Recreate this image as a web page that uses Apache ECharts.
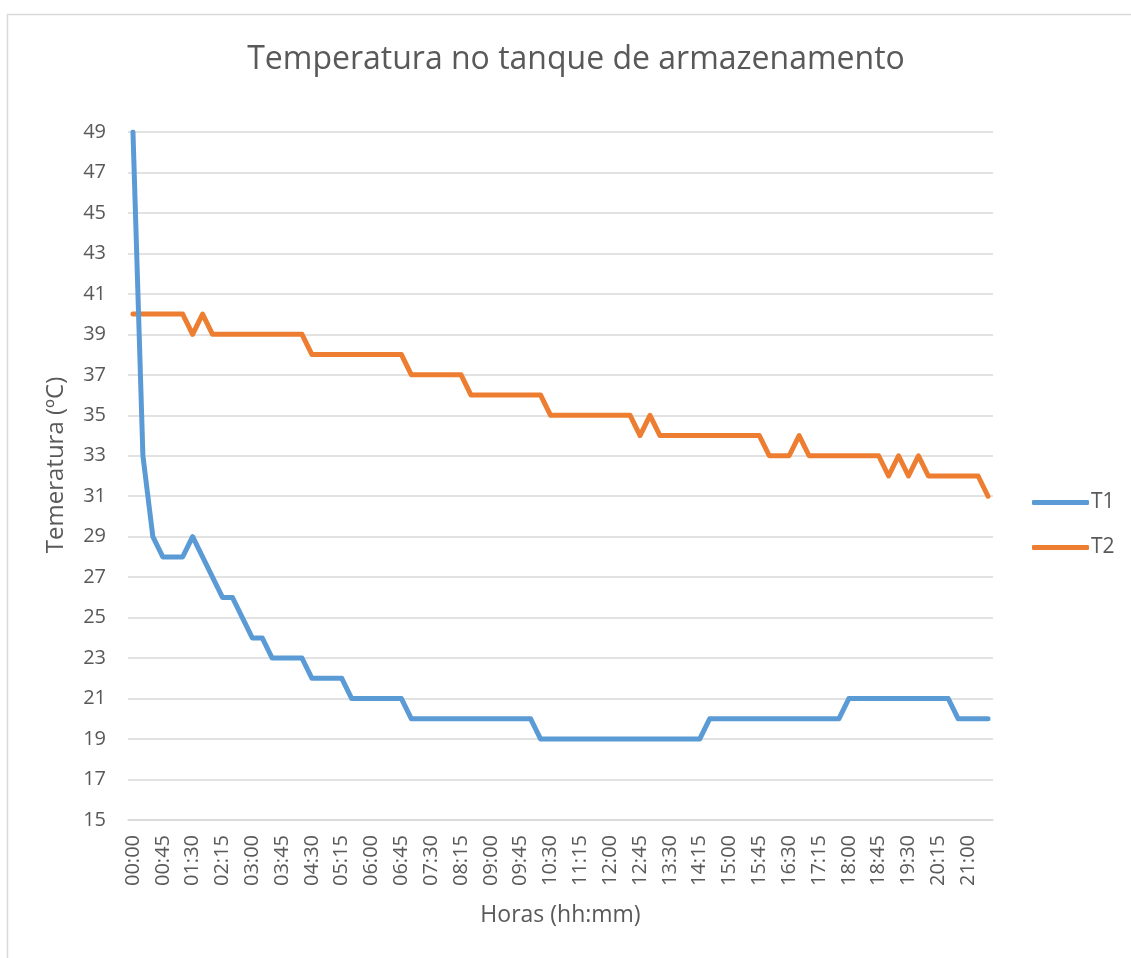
<!DOCTYPE html>
<html>
<head>
<meta charset="utf-8">
<title>Temperatura no tanque de armazenamento</title>
<script src="https://cdn.jsdelivr.net/npm/echarts@6/dist/echarts.min.js"></script>
<style>
  html, body { margin: 0; padding: 0; background: #ffffff; }
  #chart { width: 1131px; height: 958px; }
</style>
</head>
<body>
<div id="chart"></div>
<script>
// Time of day, one reading every 15 minutes
const horas = [
  '00:00','00:15','00:30','00:45','01:00','01:15','01:30','01:45','02:00','02:15',
  '02:30','02:45','03:00','03:15','03:30','03:45','04:00','04:15','04:30','04:45',
  '05:00','05:15','05:30','05:45','06:00','06:15','06:30','06:45','07:00','07:15',
  '07:30','07:45','08:00','08:15','08:30','08:45','09:00','09:15','09:30','09:45',
  '10:00','10:15','10:30','10:45','11:00','11:15','11:30','11:45','12:00','12:15',
  '12:30','12:45','13:00','13:15','13:30','13:45','14:00','14:15','14:30','14:45',
  '15:00','15:15','15:30','15:45','16:00','16:15','16:30','16:45','17:00','17:15',
  '17:30','17:45','18:00','18:15','18:30','18:45','19:00','19:15','19:30','19:45',
  '20:00','20:15','20:30','20:45','21:00','21:15','21:30'
];

// Sensor T1 (ºC)
const t1 = [
  49, 33, 29, 28, 28, 28, 29, 28, 27, 26,
  26, 25, 24, 24, 23, 23, 23, 23, 22, 22,
  22, 22, 21, 21, 21, 21, 21, 21, 20, 20,
  20, 20, 20, 20, 20, 20, 20, 20, 20, 20,
  20, 19, 19, 19, 19, 19, 19, 19, 19, 19,
  19, 19, 19, 19, 19, 19, 19, 19, 20, 20,
  20, 20, 20, 20, 20, 20, 20, 20, 20, 20,
  20, 20, 21, 21, 21, 21, 21, 21, 21, 21,
  21, 21, 21, 20, 20, 20, 20
];

// Sensor T2 (ºC)
const t2 = [
  40, 40, 40, 40, 40, 40, 39, 40, 39, 39,
  39, 39, 39, 39, 39, 39, 39, 39, 38, 38,
  38, 38, 38, 38, 38, 38, 38, 38, 37, 37,
  37, 37, 37, 37, 36, 36, 36, 36, 36, 36,
  36, 36, 35, 35, 35, 35, 35, 35, 35, 35,
  35, 34, 35, 34, 34, 34, 34, 34, 34, 34,
  34, 34, 34, 34, 33, 33, 33, 34, 33, 33,
  33, 33, 33, 33, 33, 33, 32, 33, 32, 33,
  32, 32, 32, 32, 32, 32, 31
];

const tituloGrafico = 'Temperatura no tanque de armazenamento';
const tituloEixoX = 'Horas (hh:mm)';
const tituloEixoY = 'Temeratura (ºC)';
const nomesSeries = ['T1', 'T2'];

const FONT = '"Open Sans", "Noto Sans", sans-serif';
const TXT = '#595959';
const GRID_LINE = '#D9D9D9';

const chart = echarts.init(document.getElementById('chart'), null, { renderer: 'canvas' });

chart.setOption({
  backgroundColor: '#ffffff',
  animation: false,
  textStyle: { fontFamily: FONT, color: TXT },
  graphic: [{
    type: 'rect',
    silent: true,
    shape: { x: 7.5, y: 14.5, width: 1200, height: 1000 },
    style: { fill: 'none', stroke: GRID_LINE, lineWidth: 1.5 }
  }],
  title: {
    text: tituloGrafico,
    left: 576,
    textAlign: 'center',
    top: 44,
    padding: 0,
    textStyle: { fontFamily: FONT, fontSize: 32, fontWeight: 'normal', color: TXT }
  },
  legend: {
    orient: 'vertical',
    left: 1032,
    top: 492,
    padding: 0,
    itemWidth: 57,
    itemHeight: 5,
    itemGap: 24,
    icon: 'roundRect',
    data: nomesSeries,
    textStyle: { fontFamily: FONT, fontSize: 21, color: TXT, padding: [0, 0, 0, -3] }
  },
  grid: {
    left: 128,
    right: 138,
    top: 132,
    bottom: 138,
    containLabel: false,
    outerBoundsMode: 'none'
  },
  xAxis: {
    type: 'category',
    data: horas,
    boundaryGap: true,
    name: tituloEixoX,
    nameLocation: 'middle',
    nameGap: 84,
    nameTextStyle: { fontFamily: FONT, fontSize: 23, color: TXT },
    axisLine: { show: true, lineStyle: { color: GRID_LINE, width: 1.5 } },
    axisTick: { show: false },
    axisLabel: {
      interval: 2,
      rotate: 90,
      margin: 15,
      fontFamily: FONT,
      fontSize: 20,
      color: TXT
    },
    splitLine: { show: false }
  },
  yAxis: {
    type: 'value',
    min: 15,
    max: 49,
    interval: 2,
    name: tituloEixoY,
    nameLocation: 'middle',
    nameGap: 60,
    nameTextStyle: { fontFamily: FONT, fontSize: 24, color: TXT, padding: [0, 0, 0, 22] },
    axisLine: { show: false },
    axisTick: { show: false },
    axisLabel: { margin: 22, fontFamily: FONT, fontSize: 20, color: TXT },
    splitLine: { show: true, lineStyle: { color: GRID_LINE, width: 1.5 } }
  },
  series: [
    {
      name: nomesSeries[0],
      type: 'line',
      data: t1,
      z: 3,
      symbol: 'none',
      color: '#5B9BD5',
      lineStyle: { width: 5, color: '#5B9BD5', cap: 'round', join: 'round' }
    },
    {
      name: nomesSeries[1],
      type: 'line',
      data: t2,
      z: 2,
      symbol: 'none',
      color: '#ED7D31',
      lineStyle: { width: 5, color: '#ED7D31', cap: 'round', join: 'round' }
    }
  ]
});
</script>
</body>
</html>
